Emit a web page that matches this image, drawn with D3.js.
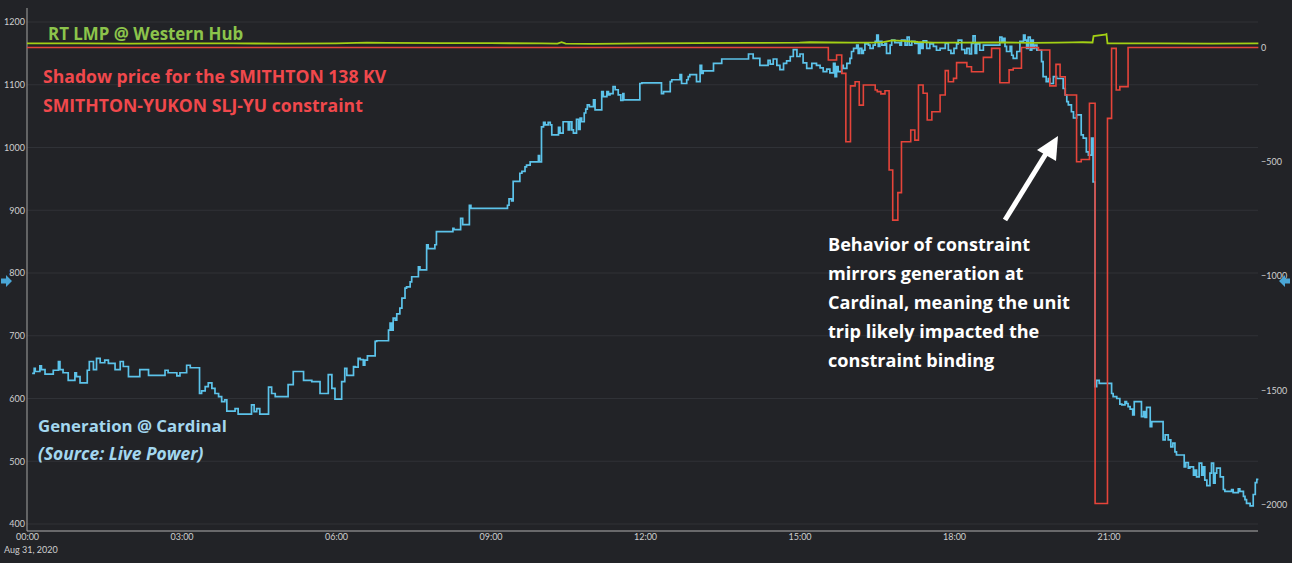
<!DOCTYPE html>
<html><head><meta charset="utf-8">
<script src="https://cdn.jsdelivr.net/npm/d3@7"></script>
<style>
html,body{margin:0;padding:0;background:#222327;overflow:hidden;}
svg{display:block;}
</style></head><body>
<svg id="chart" width="1292" height="563"></svg>
<script>
// ---- Data ----
const genHours = [0.10,0.14,0.16,0.25,0.28,0.35,0.51,0.61,0.64,0.70,0.80,0.93,0.96,1.03,1.17,1.21,1.29,1.35,1.42,1.51,1.58,1.71,1.81,1.87,1.97,2.19,2.36,2.68,2.74,2.91,2.97,3.10,3.17,3.35,3.39,3.46,3.52,3.59,3.65,3.72,3.78,3.84,3.88,4.04,4.10,4.36,4.41,4.46,4.52,4.69,4.75,4.82,5.07,5.17,5.37,5.53,5.69,5.85,5.92,5.98,6.11,6.17,6.21,6.34,6.37,6.43,6.47,6.53,6.56,6.61,6.76,6.79,7.02,7.05,7.08,7.11,7.15,7.18,7.24,7.28,7.34,7.37,7.44,7.47,7.60,7.63,7.76,7.79,7.92,7.95,8.27,8.29,8.42,8.46,8.59,8.62,9.33,9.36,9.41,9.44,9.57,9.61,9.67,9.70,9.77,9.93,9.95,9.99,10.03,10.06,10.12,10.16,10.19,10.32,10.35,10.41,10.51,10.54,10.58,10.61,10.67,10.71,10.74,10.77,10.82,10.85,10.88,10.92,11.00,11.03,11.16,11.19,11.26,11.29,11.32,11.38,11.42,11.48,11.53,11.57,11.59,11.90,11.94,12.32,12.36,12.49,12.52,12.68,12.71,12.81,12.84,12.87,13.00,13.07,13.10,13.13,13.33,13.49,14.01,14.10,14.23,14.39,14.43,14.49,14.56,14.62,14.69,14.75,14.82,14.88,14.95,15.01,15.07,15.14,15.24,15.33,15.40,15.46,15.53,15.59,15.66,15.69,15.72,15.75,15.82,15.85,15.92,15.98,16.01,16.05,16.11,16.14,16.17,16.21,16.24,16.27,16.34,16.37,16.43,16.47,16.50,16.53,16.56,16.60,16.66,16.69,16.76,16.79,16.85,16.95,16.98,17.05,17.09,17.13,17.18,17.24,17.31,17.34,17.37,17.40,17.47,17.53,17.60,17.66,17.73,17.83,17.89,17.94,18.00,18.05,18.08,18.15,18.21,18.25,18.30,18.34,18.37,18.41,18.44,18.50,18.57,18.89,18.93,18.96,18.99,19.02,19.09,19.12,19.15,19.22,19.28,19.35,19.38,19.41,19.44,19.48,19.51,19.54,19.57,19.61,19.70,19.73,19.79,19.83,19.86,19.93,19.99,20.12,20.16,20.19,20.22,20.28,20.32,20.38,20.47,20.51,20.57,20.61,20.67,20.70,20.74,20.77,20.82,21.06,21.09,21.16,21.22,21.26,21.32,21.35,21.38,21.42,21.47,21.50,21.64,21.68,21.71,21.74,21.81,21.84,22.06,22.10,22.16,22.21,22.25,22.29,22.32,22.47,22.50,22.55,22.58,22.65,22.68,22.71,22.76,22.81,22.84,22.87,22.91,22.97,23.00,23.04,23.07,23.10,23.17,23.23,23.26,23.39,23.42,23.52,23.55,23.62,23.65,23.68,23.75,23.81,23.85,23.88,23.91];
const genMW = [640,648,643,652,646,639,645,659,646,641,629,641,635,625,645,659,646,664,657,661,656,646,659,651,635,646,637,645,641,636,641,653,649,608,612,619,625,616,608,603,595,598,580,584,575,590,579,584,575,618,608,603,622,643,629,627,608,638,616,599,627,648,637,651,650,664,662,653,661,668,691,692,709,720,709,728,725,735,744,760,776,778,786,794,810,805,845,839,845,866,871,869,887,877,908,903,908,918,915,946,959,962,969,972,977,987,977,1033,1040,1036,1040,1036,1020,1032,1023,1041,1028,1041,1028,1023,1045,1029,1047,1041,1055,1061,1068,1065,1076,1060,1089,1081,1089,1084,1086,1097,1092,1084,1075,1086,1076,1102,1103,1086,1089,1105,1108,1116,1102,1108,1113,1116,1105,1131,1118,1122,1134,1141,1149,1142,1131,1139,1133,1141,1131,1124,1134,1138,1145,1156,1145,1149,1135,1126,1134,1131,1127,1121,1125,1119,1134,1113,1129,1121,1131,1126,1134,1142,1153,1158,1163,1150,1158,1150,1155,1165,1163,1158,1163,1169,1179,1161,1169,1163,1166,1150,1163,1171,1167,1163,1171,1163,1176,1163,1169,1166,1150,1166,1158,1170,1158,1165,1161,1155,1158,1166,1155,1150,1158,1165,1171,1156,1150,1158,1149,1166,1178,1150,1165,1155,1163,1176,1169,1174,1161,1153,1161,1147,1142,1153,1169,1179,1171,1158,1176,1155,1171,1158,1163,1155,1137,1113,1105,1110,1102,1113,1110,1094,1084,1073,1068,1057,1047,1052,1020,1015,993,988,1015,945,619,629,624,608,603,600,591,590,595,592,587,583,574,595,571,579,570,586,555,563,534,542,534,523,529,515,510,491,498,489,491,478,486,475,497,478,491,470,461,481,497,465,481,489,475,455,452,455,450,456,452,444,439,433,429,447,466,471,471];

const shadowHours = [0,15.56,15.72,15.82,15.90,15.99,16.08,16.16,16.24,16.47,16.51,16.58,16.66,16.74,16.81,16.91,16.98,17.16,17.24,17.31,17.40,17.48,17.57,17.73,17.83,17.89,17.99,18.05,18.25,18.34,18.57,18.73,18.89,19.07,19.15,19.31,19.64,19.86,19.98,20.06,20.16,20.38,20.47,20.63,20.74,20.98,21.06,21.15,21.22,21.38,23.91];
const shadowPrice = [0,-55,-33,-113,-412,-168,-150,-252,-164,-186,-193,-203,-189,-536,-755,-635,-412,-361,-405,-164,-200,-317,-281,-208,-101,-150,-135,-66,-84,-106,-43,-4,-154,-98,-91,0,-11,-168,-74,-128,-208,-500,-490,-244,-1995,-310,-4,-186,-171,0,0];

const lmpHours = [0,1,2,3,4,5,6,6.6,7,8,9,10,10.3,10.38,10.46,11,12,13,14,15,15.2,16,16.3,16.6,16.8,17.0,17.3,17.6,18,19,19.5,20,20.3,20.5,20.69,20.71,20.93,20.96,20.98,22,23,23.91];
const lmpPrice = [18,18,17,18,18,17,18,21,20,19,19,18,17,23,17,16,18,19,20,21,23,21,21,22,31,29,24,21,21,22,20,21,22,23,22,50,56,59,18,18,17,18];

const leftTicks = [400,500,600,700,800,900,1000,1100,1200];
const rightTicks = [-2000,-1500,-1000,-500,0];
const timeTicks = [0,3,6,9,12,15,18,21];
const dateLabel = "Aug 31, 2020";

// ---- Layout ----
const W = 1292, H = 563;
const svg = d3.select("#chart");
svg.append("rect").attr("width", W).attr("height", H).attr("fill", "#222327");

const x = d3.scaleLinear().domain([0, 24]).range([27, 1263]);
const yL = d3.scaleLinear().domain([400, 1200]).range([524, 22]);
const yR = d3.scaleLinear().domain([-2000, 0]).range([504.7, 47.5]);
const plotL = 27, plotR = 1258, plotT = 8, plotB = 531;

// gridlines
svg.append("g").selectAll("line").data(leftTicks).join("line")
  .attr("x1", plotL).attr("x2", plotR)
  .attr("y1", d => yL(d)).attr("y2", d => yL(d))
  .attr("stroke", "#303237").attr("stroke-width", 1.2);

// axis lines
svg.append("line").attr("x1", plotL).attr("x2", plotL).attr("y1", plotT).attr("y2", plotB)
  .attr("stroke", "#8f8f8f").attr("stroke-width", 1.2);
svg.append("line").attr("x1", plotL).attr("x2", plotR).attr("y1", plotB).attr("y2", plotB)
  .attr("stroke", "#b0b0b0").attr("stroke-width", 1.2);

const tickFont = "Lato, 'DejaVu Sans', sans-serif";
// left axis
const gL = svg.append("g").attr("transform", `translate(${plotL - 2},0)`)
  .call(d3.axisLeft(yL).tickValues(leftTicks).tickSize(0).tickPadding(0).tickFormat(d3.format("d")));
gL.select(".domain").remove();
gL.selectAll("text").attr("fill", "#cfcfcf").style("font", `9px ${tickFont}`);

// right axis
const gR = svg.append("g").attr("transform", `translate(1261,0)`)
  .call(d3.axisRight(yR).tickValues(rightTicks).tickSize(0).tickPadding(0).tickFormat(d3.format("d")));
gR.select(".domain").remove();
gR.selectAll("text").attr("fill", "#cfcfcf").style("font", `9px ${tickFont}`);

// bottom axis
const gB = svg.append("g").attr("transform", `translate(0,${plotB + 3})`)
  .call(d3.axisBottom(x).tickValues(timeTicks).tickSize(0).tickPadding(0)
    .tickFormat(h => String(h).padStart(2, "0") + ":00"));
gB.select(".domain").remove();
gB.selectAll("text").attr("fill", "#cfcfcf").style("font", `9px ${tickFont}`);
svg.append("text").attr("x", 4).attr("y", 553).text(dateLabel)
  .attr("fill", "#cfcfcf").style("font", `9px ${tickFont}`);

// ---- Series ----
const gen = genHours.map((h, i) => [h, genMW[i]]);
const shadow = shadowHours.map((h, i) => [h, shadowPrice[i]]);
const lmp = lmpHours.map((h, i) => [h, lmpPrice[i]]);

svg.append("path").datum(gen)
  .attr("d", d3.line().x(d => x(d[0])).y(d => yL(d[1])).curve(d3.curveStepAfter))
  .attr("fill", "none").attr("stroke", "#5cc3ea").attr("stroke-width", 1.7);

svg.append("path").datum(shadow)
  .attr("d", d3.line().x(d => x(d[0])).y(d => yR(d[1])).curve(d3.curveStepAfter))
  .attr("fill", "none").attr("stroke", "#e5443a").attr("stroke-width", 1.6);

svg.append("path").datum(lmp)
  .attr("d", d3.line().x(d => x(d[0])).y(d => yR(d[1])))
  .attr("fill", "none").attr("stroke", "#a3d014").attr("stroke-width", 1.8);

// ---- Annotations ----
const annFont = "'Open Sans', 'Noto Sans', sans-serif";
function label(txt, xx, yy, color, size, italic) {
  svg.append("text").attr("x", xx).attr("y", yy).text(txt)
    .attr("fill", color)
    .style("font-family", annFont).style("font-weight", 700)
    .style("font-size", size + "px")
    .style("font-style", italic ? "italic" : "normal");
}
label("RT LMP @ Western Hub", 48, 40, "#8cc44b", 16.9);
label("Shadow price for the SMITHTON 138 KV", 43, 83, "#f0484c", 17.6);
label("SMITHTON-YUKON SLJ-YU constraint", 43, 112, "#f0484c", 17.6);
label("Generation @ Cardinal", 38, 432, "#a3d7ef", 16.8);
label("(Source: Live Power)", 38, 460, "#a3d7ef", 17.4, true);
const noteLines = ["Behavior of constraint", "mirrors generation at", "Cardinal, meaning the unit", "trip likely impacted the", "constraint binding"];
noteLines.forEach((t, i) => label(t, 828, 251 + i * 29, "#ffffff", 18.1));

// white arrow
svg.append("line").attr("x1", 1005).attr("y1", 220).attr("x2", 1047).attr("y2", 152)
  .attr("stroke", "#ffffff").attr("stroke-width", 5);
svg.append("path").attr("d", "M1058,136 L1056,161 L1037,150 Z").attr("fill", "#ffffff");

// nav arrows
function navArrow(cx, cy, dir) {
  const s = dir;
  svg.append("path")
    .attr("d", `M${cx - 6 * s},${cy} L${cx},${cy - 6} L${cx},${cy - 2.5} L${cx + 5 * s},${cy - 2.5} L${cx + 5 * s},${cy + 2.5} L${cx},${cy + 2.5} L${cx},${cy + 6} Z`)
    .attr("fill", "#4aa6d6");
}
navArrow(6, 281, -1);
navArrow(1285, 281, 1);
</script>
</body></html>
